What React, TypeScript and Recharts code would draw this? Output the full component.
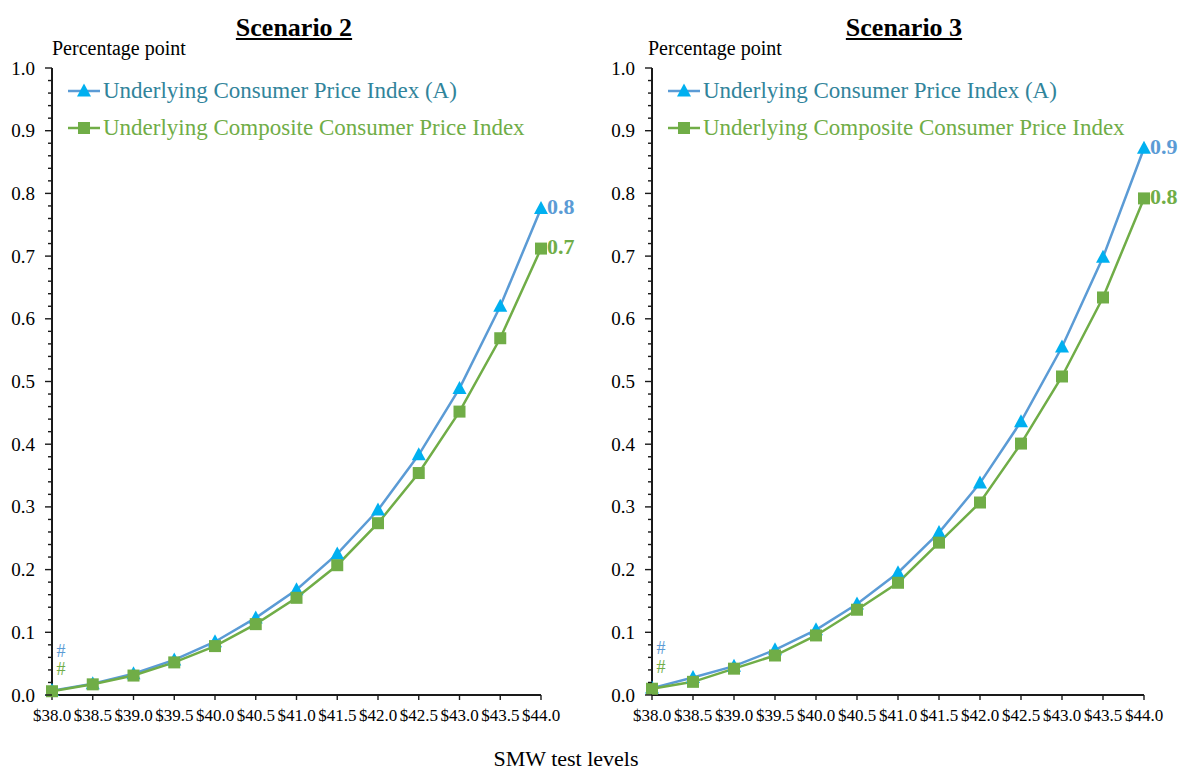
import React from "react";
import { LineChart, Line, XAxis, YAxis, Legend, LabelList } from "recharts";

// SMW test levels on the horizontal axis
const SMW_LEVELS = [
  "$38.0", "$38.5", "$39.0", "$39.5", "$40.0", "$40.5", "$41.0",
  "$41.5", "$42.0", "$42.5", "$43.0", "$43.5", "$44.0",
];

// Scenario 2 (percentage point)
const S2_UNDERLYING_A = [0.007, 0.018, 0.034, 0.056, 0.085, 0.123, 0.168, 0.225, 0.295, 0.383, 0.489, 0.62, 0.776];
const S2_COMPOSITE = [0.006, 0.017, 0.031, 0.052, 0.078, 0.113, 0.155, 0.207, 0.274, 0.354, 0.452, 0.569, 0.712];

// Scenario 3 (percentage point)
const S3_UNDERLYING_A = [0.011, 0.028, 0.046, 0.072, 0.104, 0.145, 0.195, 0.259, 0.338, 0.436, 0.555, 0.698, 0.872];
const S3_COMPOSITE = [0.010, 0.021, 0.042, 0.063, 0.095, 0.136, 0.179, 0.243, 0.307, 0.401, 0.508, 0.634, 0.792];

// Labelled ticks on the vertical axis; each gap is split into 5 minor ticks
const Y_MAJOR_TICKS = [0, 0.1, 0.2, 0.3, 0.4, 0.5, 0.6, 0.7, 0.8, 0.9, 1.0];
const Y_MINOR_DIVISIONS = 5;

const SERIES_KEYS = ["a", "b"];
const SERIES_NAMES: Record<string, string> = {
  a: "Underlying Consumer Price Index (A)",
  b: "Underlying Composite Consumer Price Index",
};

const FONT = "'Liberation Serif', 'Times New Roman', serif";
const BLUE_LINE = "#5B9BD5";
const BLUE_MARK = "#00B0F0";
const BLUE_TEXT = "#31849B";
const GREEN = "#70AD47";
const AXIS = "#1a1a1a";

const Y_TICKS: number[] = [];
Y_MAJOR_TICKS.forEach((t, i) => {
  Y_TICKS.push(t);
  if (i < Y_MAJOR_TICKS.length - 1) {
    const step = (Y_MAJOR_TICKS[i + 1] - t) / Y_MINOR_DIVISIONS;
    for (let k = 1; k < Y_MINOR_DIVISIONS; k++) Y_TICKS.push(+(t + step * k).toFixed(4));
  }
});

const buildRows = (a: number[], b: number[]) =>
  SMW_LEVELS.map((level, i) => ({ level, a: a[i], b: b[i] }));

const SERIES_STYLE: Record<string, { line: string; mark: string; text: string; shape: "triangle" | "square" }> = {
  a: { line: BLUE_LINE, mark: BLUE_MARK, text: BLUE_TEXT, shape: "triangle" },
  b: { line: GREEN, mark: GREEN, text: GREEN, shape: "square" },
};

const Marker = ({ cx, cy, shape, color }: any) => {
  if (cx == null || cy == null) return null;
  if (shape === "triangle") {
    const pts = `${cx},${cy - 7.5} ${cx - 7},${cy + 5.5} ${cx + 7},${cy + 5.5}`;
    return <polygon points={pts} fill={color} />;
  }
  return <rect x={cx - 6} y={cy - 6} width={12} height={12} fill={color} />;
};

const YTick = (props: any) => {
  const { x, y, payload } = props;
  const v = payload.value as number;
  const major = Math.abs(v * 10 - Math.round(v * 10)) < 1e-6;
  return (
    <g>
      <line x1={x - (major ? 7 : 4)} x2={x} y1={y} y2={y} stroke={AXIS} strokeWidth={1.4} />
      {major && (
        <text x={x - 17} y={y} textAnchor="end" dominantBaseline="central" fontSize={19} fontFamily={FONT} fill="#000">
          {v.toFixed(1)}
        </text>
      )}
    </g>
  );
};

// Value at the last point, and a "#" note at the first point
const makePointLabel = (color: string, count: number, hashDy: number) => (props: any) => {
  const vb = props.viewBox || {};
  const x = props.x ?? vb.x;
  const y = props.y ?? vb.y;
  const { index, value } = props;
  if (x == null || y == null) return null;
  if (index === count - 1) {
    return (
      <text x={x + 6} y={y - 2} dominantBaseline="central" fontSize={22} fontWeight="bold" fontFamily={FONT} fill={color}>
        {Number(value).toFixed(1)}
      </text>
    );
  }
  if (index === 0) {
    return (
      <text x={x + 9} y={y + hashDy} textAnchor="middle" dominantBaseline="central" fontSize={18} fontFamily={FONT} fill={color}>
        #
      </text>
    );
  }
  return null;
};

const LegendContent = ({ payload }: any) => {
  const entries = [...(payload || [])].sort(
    (p: any, q: any) => SERIES_KEYS.indexOf(p.dataKey) - SERIES_KEYS.indexOf(q.dataKey)
  );
  return (
    <div style={{ fontFamily: FONT }}>
      {entries.map((entry: any) => {
        const st = SERIES_STYLE[entry.dataKey];
        return (
          <div key={entry.dataKey} style={{ display: "flex", alignItems: "center", height: 37 }}>
            <svg width={34} height={20} style={{ display: "block" }}>
              <line x1={2} x2={34} y1={10} y2={10} stroke={st.line} strokeWidth={2.5} />
              <Marker cx={18} cy={10} shape={st.shape} color={st.mark} />
            </svg>
            <span style={{ marginLeft: 3, fontSize: 23, lineHeight: "23px", color: st.text, whiteSpace: "nowrap" }}>
              {entry.value}
            </span>
          </div>
        );
      })}
    </div>
  );
};

const Panel = ({ a, b, width, rightMargin }: { a: number[]; b: number[]; width: number; rightMargin: number }) => {
  const rows = buildRows(a, b);
  const n = rows.length;
  return (
    <LineChart width={width} height={771} data={rows} margin={{ top: 68, right: rightMargin, bottom: 0, left: 0 }}>
      <XAxis
        dataKey="level"
        interval={0}
        height={76}
        tickSize={5}
        tickMargin={9}
        axisLine={{ stroke: AXIS, strokeWidth: 2 }}
        tickLine={{ stroke: AXIS, strokeWidth: 1.4 }}
        tick={{ fontSize: 17, fill: "#000", fontFamily: FONT }}
      />
      <XAxis xAxisId="frame" dataKey="level" orientation="top" height={0} tick={false} tickLine={false} axisLine={{ stroke: AXIS, strokeWidth: 2 }} />
      <YAxis
        type="number"
        domain={[0, 1]}
        ticks={Y_TICKS}
        interval={0}
        width={52}
        tickSize={0}
        tickMargin={0}
        tickLine={false}
        axisLine={{ stroke: AXIS, strokeWidth: 2 }}
        tick={<YTick />}
      />
      <YAxis yAxisId="frame" type="number" domain={[0, 1]} orientation="right" width={0} tick={false} tickLine={false} axisLine={{ stroke: AXIS, strokeWidth: 2 }} />
      <Legend
        layout="vertical"
        verticalAlign="middle"
        align="center"
        wrapperStyle={{ top: 72, left: 66, width: "auto" }}
        content={<LegendContent />}
      />
      <Line
        type="linear"
        dataKey="a"
        name={SERIES_NAMES.a}
        stroke={BLUE_LINE}
        strokeWidth={2.5}
        isAnimationActive={false}
        dot={(p: any) => <Marker key={`a-${p.index}`} cx={p.cx} cy={p.cy} shape="triangle" color={BLUE_MARK} />}
        activeDot={false}
      >
        <LabelList dataKey="a" content={makePointLabel(BLUE_LINE, n, -40)} />
      </Line>
      <Line
        type="linear"
        dataKey="b"
        name={SERIES_NAMES.b}
        stroke={GREEN}
        strokeWidth={2.5}
        isAnimationActive={false}
        dot={(p: any) => <Marker key={`b-${p.index}`} cx={p.cx} cy={p.cy} shape="square" color={GREEN} />}
        activeDot={false}
      >
        <LabelList dataKey="b" content={makePointLabel(GREEN, n, -22)} />
      </Line>
    </LineChart>
  );
};

const textBase: React.CSSProperties = { position: "absolute", fontFamily: FONT, color: "#000", whiteSpace: "nowrap" };

export default function App() {
  return (
    <div style={{ position: "absolute", left: 0, top: 0, width: 1184, height: 771, background: "#fff", overflow: "hidden" }}>
      <div style={{ position: "absolute", left: 0, top: 0 }}>
        <Panel a={S2_UNDERLYING_A} b={S2_COMPOSITE} width={600} rightMargin={59} />
      </div>
      <div style={{ position: "absolute", left: 600, top: 0 }}>
        <Panel a={S3_UNDERLYING_A} b={S3_COMPOSITE} width={584} rightMargin={40} />
      </div>

      <div style={{ ...textBase, left: 194, width: 200, textAlign: "center", top: 15, fontSize: 26, lineHeight: "26px", fontWeight: "bold", textDecoration: "underline" }}>
        Scenario 2
      </div>
      <div style={{ ...textBase, left: 804, width: 200, textAlign: "center", top: 15, fontSize: 26, lineHeight: "26px", fontWeight: "bold", textDecoration: "underline" }}>
        Scenario 3
      </div>

      <div style={{ ...textBase, left: 52, top: 38, fontSize: 20, lineHeight: "20px" }}>Percentage point</div>
      <div style={{ ...textBase, left: 648, top: 38, fontSize: 20, lineHeight: "20px" }}>Percentage point</div>

      <div style={{ ...textBase, left: 416, width: 300, textAlign: "center", top: 748, fontSize: 22, lineHeight: "22px" }}>
        SMW test levels
      </div>
    </div>
  );
}
